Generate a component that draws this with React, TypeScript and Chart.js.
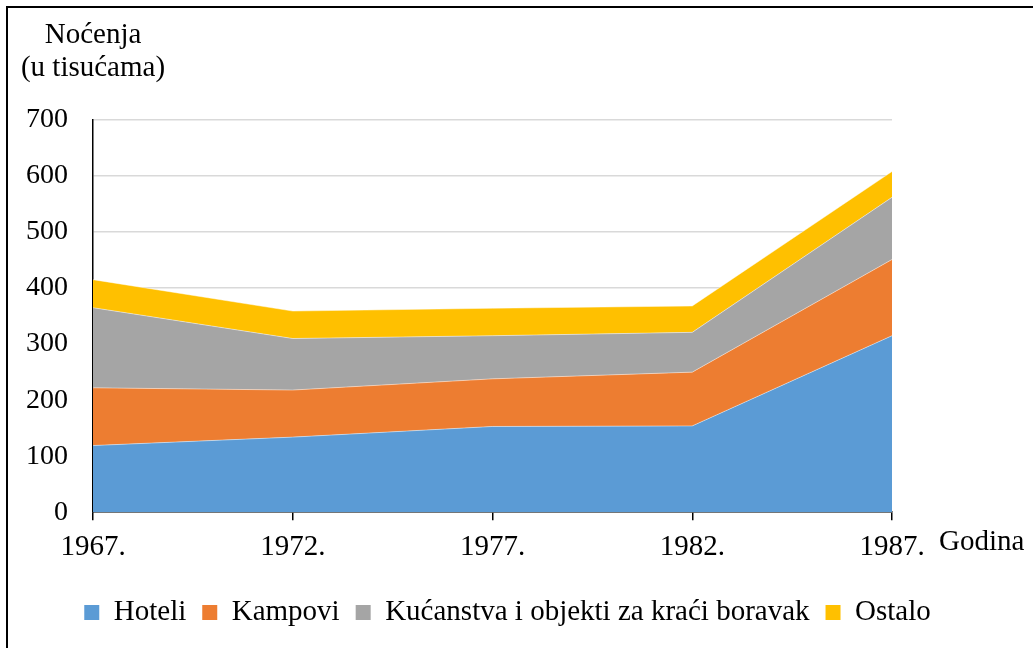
import React, { useEffect, useRef } from 'react';
import { Chart, registerables } from 'chart.js';
Chart.register(...registerables);

const years = ['1967.', '1972.', '1977.', '1982.', '1987.'];
const hoteli = [119, 134, 153, 154, 315];
const kampovi = [103, 84, 85, 96, 136];
const kucanstva = [143, 92, 77, 71, 111];
const ostalo = [50, 49, 49, 47, 46];
const seriesNames = ['Hoteli', 'Kampovi', 'Kućanstva i objekti za kraći boravak', 'Ostalo'];
const seriesColors = ['#5B9BD5', '#ED7D31', '#A5A5A5', '#FFC000'];
const yTitleLines = ['Noćenja', '(u tisućama)'];
const xTitle = 'Godina';
const FONT = '"Liberation Serif", "Times New Roman", serif';

const titlesPlugin = {
  id: 'axisTitles',
  afterDraw(chart: any) {
    const { ctx, chartArea } = chart;
    ctx.save();
    ctx.fillStyle = '#000';
    ctx.font = `29px ${FONT}`;
    ctx.textAlign = 'center';
    ctx.textBaseline = 'alphabetic';
    ctx.fillText(yTitleLines[0], chartArea.left, 43);
    ctx.fillText(yTitleLines[1], chartArea.left, 76);
    ctx.textAlign = 'left';
    ctx.fillText(xTitle, chartArea.right + 47, chartArea.bottom + 38);
    ctx.restore();
  },
};

export default function App() {
  const ref = useRef<HTMLCanvasElement>(null);
  useEffect(() => {
    if (!ref.current) return;
    const values = [hoteli, kampovi, kucanstva, ostalo];
    const chart = new Chart(ref.current, {
      type: 'line',
      data: {
        labels: years,
        datasets: values.map((v, i) => ({
          label: seriesNames[i],
          data: v,
          backgroundColor: seriesColors[i],
          borderColor: 'rgba(255,255,255,0.45)',
          borderWidth: 1,
          pointRadius: 0,
          tension: 0,
          fill: i === 0 ? 'origin' : '-1',
        })),
      },
      options: {
        responsive: false,
        animation: false,
        devicePixelRatio: 1,
        layout: { padding: { left: 1, right: 19, top: 120, bottom: 11 } },
        plugins: {
          legend: {
            position: 'bottom',
            labels: {
              font: { family: FONT, size: 29 },
              color: '#000',
              boxWidth: 15,
              boxHeight: 15,
              padding: 16,
              generateLabels: (chart: any) =>
                chart.data.datasets.map((d: any, i: number) => ({
                  text: d.label,
                  fillStyle: seriesColors[i],
                  strokeStyle: seriesColors[i],
                  lineWidth: 0,
                  datasetIndex: i,
                  hidden: false,
                })),
            },
          },
          tooltip: { enabled: false },
          title: { display: false },
        },
        scales: {
          x: {
            offset: false,
            grid: { drawOnChartArea: false, color: '#000', tickLength: 8, lineWidth: 1.5 },
            border: { color: '#000', width: 1.5 },
            ticks: { font: { family: FONT, size: 29 }, color: '#000', padding: 10, maxRotation: 0, autoSkip: false },
            afterFit: (s: any) => { s.height += 7; },
          },
          y: {
            stacked: true,
            min: 0,
            max: 700,
            grid: { color: '#D9D9D9', lineWidth: 1.5, drawTicks: false },
            border: { color: '#000', width: 1.5 },
            ticks: { stepSize: 100, font: { family: FONT, size: 28 }, color: '#000', padding: 25 },
          },
          y2: {
            position: 'right',
            display: true,
            grid: { display: false, drawTicks: false },
            border: { display: false },
            ticks: { display: false },
            afterFit: (s: any) => { s.width = 122; },
          },
        },
      },
      plugins: [titlesPlugin],
    });
    return () => chart.destroy();
  }, []);
  return (
    <div style={{ position: 'absolute', left: 0, top: 0, width: 1033, height: 648, overflow: 'hidden', background: '#fff' }}>
      <div style={{ position: 'absolute', left: 6, top: 6, width: 1100, height: 700, border: '2px solid #000' }} />
      <canvas ref={ref} width={1033} height={648} style={{ position: 'absolute', left: 0, top: 0 }} />
    </div>
  );
}
